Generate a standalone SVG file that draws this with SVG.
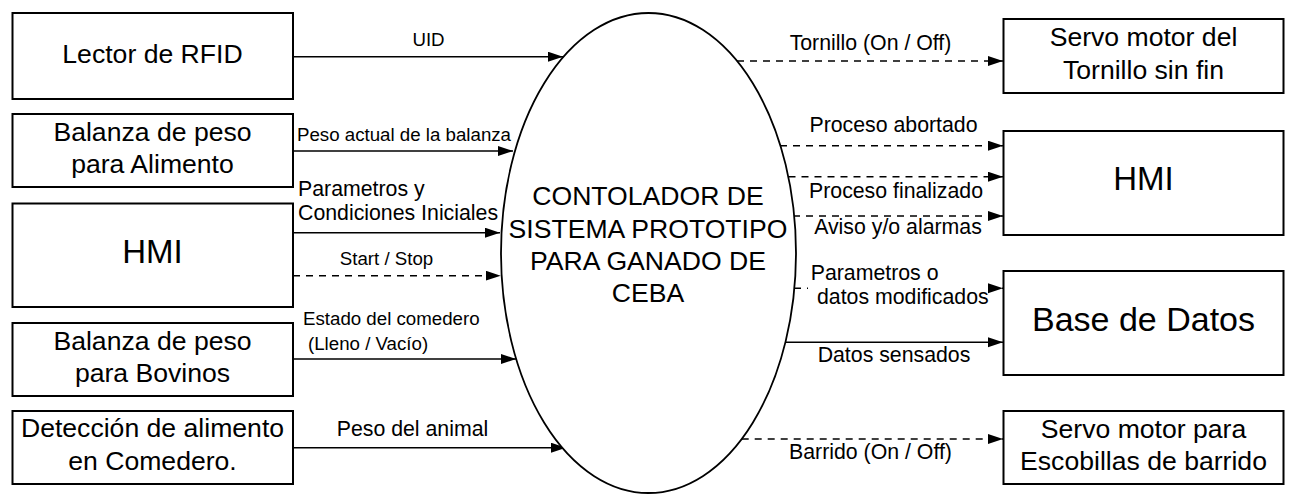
<svg xmlns="http://www.w3.org/2000/svg" width="1294" height="501" viewBox="0 0 1294 501">
<defs>
<marker id="ah" markerUnits="userSpaceOnUse" markerWidth="16" markerHeight="11" refX="15" refY="5" orient="auto">
<path d="M0,0 L15,5 L0,10 z" fill="#000"/>
</marker>
<style>
.box{fill:#fff;stroke:#000;stroke-width:2}
.t{font-family:"Liberation Sans",Arial,sans-serif;fill:#000}
.bt{font-size:26.6px;text-anchor:middle}
.big{font-size:33px;text-anchor:middle}
.ls{font-size:18.7px}
.lm{font-size:21.3px}
.mid{text-anchor:middle}
.ln{fill:none;stroke:#000;stroke-width:1.6;marker-end:url(#ah)}
.d{stroke-dasharray:7 6}
</style>
</defs>
<rect width="1294" height="501" fill="#fff"/>

<g id="connectors">
<line class="ln" x1="293" y1="56.7" x2="563" y2="56.7"/>
<line class="ln" x1="293" y1="151" x2="513" y2="151"/>
<line class="ln" x1="293" y1="232.7" x2="500" y2="232.7"/>
<line class="ln d" x1="293" y1="275.7" x2="500.7" y2="275.7"/>
<line class="ln" x1="293" y1="359" x2="516" y2="359"/>
<line class="ln" x1="293" y1="447.7" x2="566" y2="447.7"/>
<line class="ln d" x1="737" y1="61" x2="1003" y2="61"/>
<line class="ln d" x1="780" y1="145.7" x2="1003" y2="145.7"/>
<line class="ln d" x1="788.5" y1="176.7" x2="1003" y2="176.7"/>
<line class="ln d" x1="793" y1="216" x2="1003" y2="216"/>
<line class="ln d" x1="794" y1="288.3" x2="1003" y2="288.3"/>
<line class="ln" x1="785" y1="342.3" x2="1003" y2="342.3"/>
<line class="ln d" x1="741.7" y1="439" x2="1003" y2="439"/>
<rect x="808" y="264" width="180" height="46" fill="#fff"/>
<g class="t">
<text class="ls mid" x="428.5" y="45.7">UID</text>
<text class="ls mid" x="404" y="140.7">Peso actual de la balanza</text>
<text class="lm" x="298" y="196">Parametros y</text>
<text class="lm" x="298" y="220">Condiciones Iniciales</text>
<text class="ls mid" x="386.5" y="265">Start / Stop</text>
<text class="ls" x="303" y="325">Estado del comedero</text>
<text class="ls" x="308" y="350">(Lleno / Vacío)</text>
<text class="lm mid" x="412.5" y="435.7">Peso del animal</text>
<text class="lm mid" x="870.5" y="50">Tornillo (On / Off)</text>
<text class="lm mid" x="893.5" y="132">Proceso abortado</text>
<text class="lm mid" x="896" y="198">Proceso finalizado</text>
<text class="lm mid" x="898" y="234">Aviso y/o alarmas</text>
<text class="lm" x="810.7" y="280">Parametros o</text>
<text class="lm" x="817" y="304">datos modificados</text>
<text class="lm mid" x="894" y="361.7">Datos sensados</text>
<text class="lm mid" x="870.5" y="459">Barrido (On / Off)</text>
</g>
</g>

<g id="controlador">
<ellipse cx="648.5" cy="253" rx="147.5" ry="240" fill="#fff" stroke="#000" stroke-width="1.8"/>
<text class="t bt" x="648" y="205">CONTOLADOR DE</text>
<text class="t bt" x="648" y="237.5">SISTEMA PROTOTIPO</text>
<text class="t bt" x="648" y="270">PARA GANADO DE</text>
<text class="t bt" x="648" y="302">CEBA</text>
</g>

<g id="lector-rfid">
<rect class="box" x="12.5" y="13" width="280.5" height="86"/>
<text class="t bt" x="152.5" y="62.7">Lector de RFID</text>
</g>
<g id="balanza-alimento">
<rect class="box" x="12.5" y="114" width="280.5" height="73"/>
<text class="t bt" x="152.5" y="140.5">Balanza de peso</text>
<text class="t bt" x="152.5" y="173">para Alimento</text>
</g>
<g id="hmi-in">
<rect class="box" x="12.5" y="203.5" width="280.5" height="103.5"/>
<text class="t big" x="152.5" y="262.5">HMI</text>
</g>
<g id="balanza-bovinos">
<rect class="box" x="12.5" y="323" width="280.5" height="73"/>
<text class="t bt" x="152.5" y="350">Balanza de peso</text>
<text class="t bt" x="152.5" y="382">para Bovinos</text>
</g>
<g id="deteccion">
<rect class="box" x="12.5" y="411" width="280.5" height="73"/>
<text class="t bt" x="152.5" y="437">Detección de alimento</text>
<text class="t bt" x="152.5" y="470">en Comedero.</text>
</g>

<g id="servo-tornillo">
<rect class="box" x="1003.5" y="19" width="280" height="74"/>
<text class="t bt" x="1143.5" y="45.7">Servo motor del</text>
<text class="t bt" x="1143.5" y="79">Tornillo sin fin</text>
</g>
<g id="hmi-out">
<rect class="box" x="1003.5" y="131" width="280" height="104"/>
<text class="t big" x="1143.5" y="190">HMI</text>
</g>
<g id="base-datos">
<rect class="box" x="1003.5" y="271" width="280" height="104"/>
<text class="t big" x="1143.5" y="330.7" style="font-size:34px">Base de Datos</text>
</g>
<g id="servo-escobillas">
<rect class="box" x="1003.5" y="411" width="280" height="73"/>
<text class="t bt" x="1143.5" y="438">Servo motor para</text>
<text class="t bt" x="1143.5" y="470">Escobillas de barrido</text>
</g>
</svg>
